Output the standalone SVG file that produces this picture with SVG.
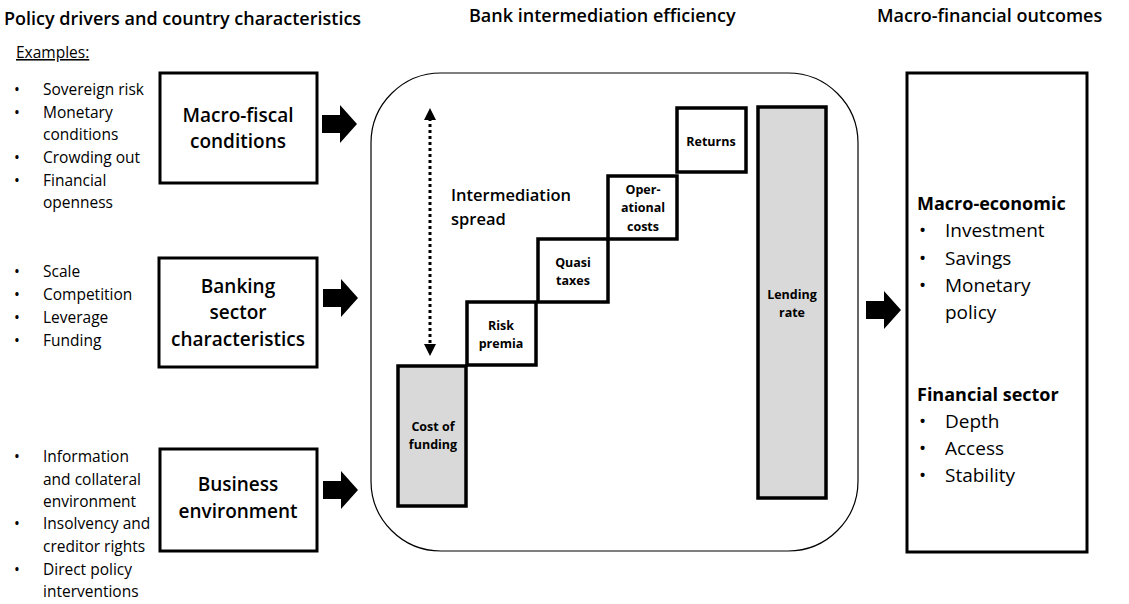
<svg xmlns="http://www.w3.org/2000/svg" width="1129" height="604" viewBox="0 0 1129 604">
<style>
text{font-family:"Open Sans","Liberation Sans",sans-serif;fill:#000}
.h{font-size:18px;font-weight:600}
.l{font-size:15.5px}
.b{font-size:19px}
.t{font-size:19px;font-weight:600}
.s{font-size:12.5px;font-weight:bold}
.box{fill:#fff;stroke:#000;stroke-width:3}
.g{fill:#d9d9d9;stroke:#000;stroke-width:3.5}
.st{fill:#fff;stroke:#000;stroke-width:3.5}
</style>
<defs>
<path id="arr" d="M0,-9 H18 V-19 L35,0 L18,19 V9 H0 Z" fill="#000"/>
</defs>
<rect width="1129" height="604" fill="#fff"/>
<text class="h" x="4" y="25">Policy drivers and country characteristics</text>
<text class="h" x="469" y="22">Bank intermediation efficiency</text>
<text class="h" x="877" y="22">Macro-financial outcomes</text>
<text class="l" x="16" y="58" text-decoration="underline">Examples:</text>
<g id="examples" class="l">
<text x="14" y="95">•</text><text x="43" y="95">Sovereign risk</text>
<text x="14" y="118">•</text><text x="43" y="118">Monetary</text><text x="43" y="140">conditions</text>
<text x="14" y="163">•</text><text x="43" y="163">Crowding out</text>
<text x="14" y="186">•</text><text x="43" y="186">Financial</text><text x="43" y="208">openness</text>
<text x="14" y="277">•</text><text x="43" y="277">Scale</text>
<text x="14" y="300">•</text><text x="43" y="300">Competition</text>
<text x="14" y="323">•</text><text x="43" y="323">Leverage</text>
<text x="14" y="346">•</text><text x="43" y="346">Funding</text>
<text x="14" y="462">•</text><text x="43" y="462">Information</text><text x="43" y="485">and collateral</text><text x="43" y="507">environment</text>
<text x="14" y="529">•</text><text x="43" y="529">Insolvency and</text><text x="43" y="552">creditor rights</text>
<text x="14" y="575">•</text><text x="43" y="575">Direct policy</text><text x="43" y="597">interventions</text>
</g>
<g id="macro-fiscal"><rect class="box" x="160" y="73" width="157" height="110"/>
<text class="t" x="238" y="122" text-anchor="middle">Macro-fiscal</text><text class="t" x="238" y="148" text-anchor="middle">conditions</text></g>
<g id="banking"><rect class="box" x="159" y="258" width="158" height="109"/>
<text class="t" x="238" y="293" text-anchor="middle">Banking</text><text class="t" x="238" y="319" text-anchor="middle">sector</text><text class="t" x="238" y="346" text-anchor="middle">characteristics</text></g>
<g id="business"><rect class="box" x="160" y="449" width="157" height="102"/>
<text class="t" x="238" y="491" text-anchor="middle">Business</text><text class="t" x="238" y="518" text-anchor="middle">environment</text></g>
<g id="efficiency"><rect x="371" y="73" width="487" height="478" rx="70" fill="#fff" stroke="#000" stroke-width="1.2"/>
<text x="451" y="201" font-size="16.5" font-weight="600">Intermediation</text><text x="451" y="225" font-size="16.5" font-weight="600">spread</text></g>
<g id="connectors">
<use href="#arr" transform="translate(322,124)"/>
<use href="#arr" transform="translate(323,298)"/>
<use href="#arr" transform="translate(323,490)"/>
<use href="#arr" transform="translate(866,310)"/>
<line x1="430" y1="118" x2="430" y2="346" stroke="#000" stroke-width="3" stroke-dasharray="3,3"/>
<path d="M430,108 L424,120 L436,120 Z M430,356 L424,344 L436,344 Z" fill="#000"/>
</g>
<g id="cost"><rect class="g" x="398" y="366" width="68" height="140"/><text class="s" x="433" y="431" text-anchor="middle">Cost of</text><text class="s" x="433" y="449" text-anchor="middle">funding</text></g>
<g id="risk"><rect class="st" x="467" y="302" width="69" height="63"/><text class="s" x="501" y="330" text-anchor="middle">Risk</text><text class="s" x="501" y="348" text-anchor="middle">premia</text></g>
<g id="quasi"><rect class="st" x="538" y="239" width="70" height="63"/><text class="s" x="573" y="267" text-anchor="middle">Quasi</text><text class="s" x="573" y="285" text-anchor="middle">taxes</text></g>
<g id="oper"><rect class="st" x="608" y="176" width="69" height="63"/><text class="s" x="643" y="194" text-anchor="middle">Oper-</text><text class="s" x="643" y="212" text-anchor="middle">ational</text><text class="s" x="643" y="231" text-anchor="middle">costs</text></g>
<g id="returns"><rect class="st" x="677" y="108" width="69" height="64"/><text class="s" x="711" y="146" text-anchor="middle">Returns</text></g>
<g id="lending"><rect class="g" x="758" y="107" width="68" height="391"/><text class="s" x="792" y="299" text-anchor="middle">Lending</text><text class="s" x="792" y="317" text-anchor="middle">rate</text></g>
<g id="outcomes"><rect class="box" x="907" y="73" width="180" height="479"/>
<text x="917" y="210" font-size="18" font-weight="bold">Macro-economic</text>
<text class="b" x="919" y="237">•</text><text class="b" x="945" y="237">Investment</text>
<text class="b" x="919" y="265">•</text><text class="b" x="945" y="265">Savings</text>
<text class="b" x="919" y="292">•</text><text class="b" x="945" y="292">Monetary</text><text class="b" x="945" y="319">policy</text>
<text x="917" y="401" font-size="18" font-weight="bold">Financial sector</text>
<text class="b" x="919" y="428">•</text><text class="b" x="945" y="428">Depth</text>
<text class="b" x="919" y="455">•</text><text class="b" x="945" y="455">Access</text>
<text class="b" x="919" y="482">•</text><text class="b" x="945" y="482">Stability</text>
</g>
</svg>
